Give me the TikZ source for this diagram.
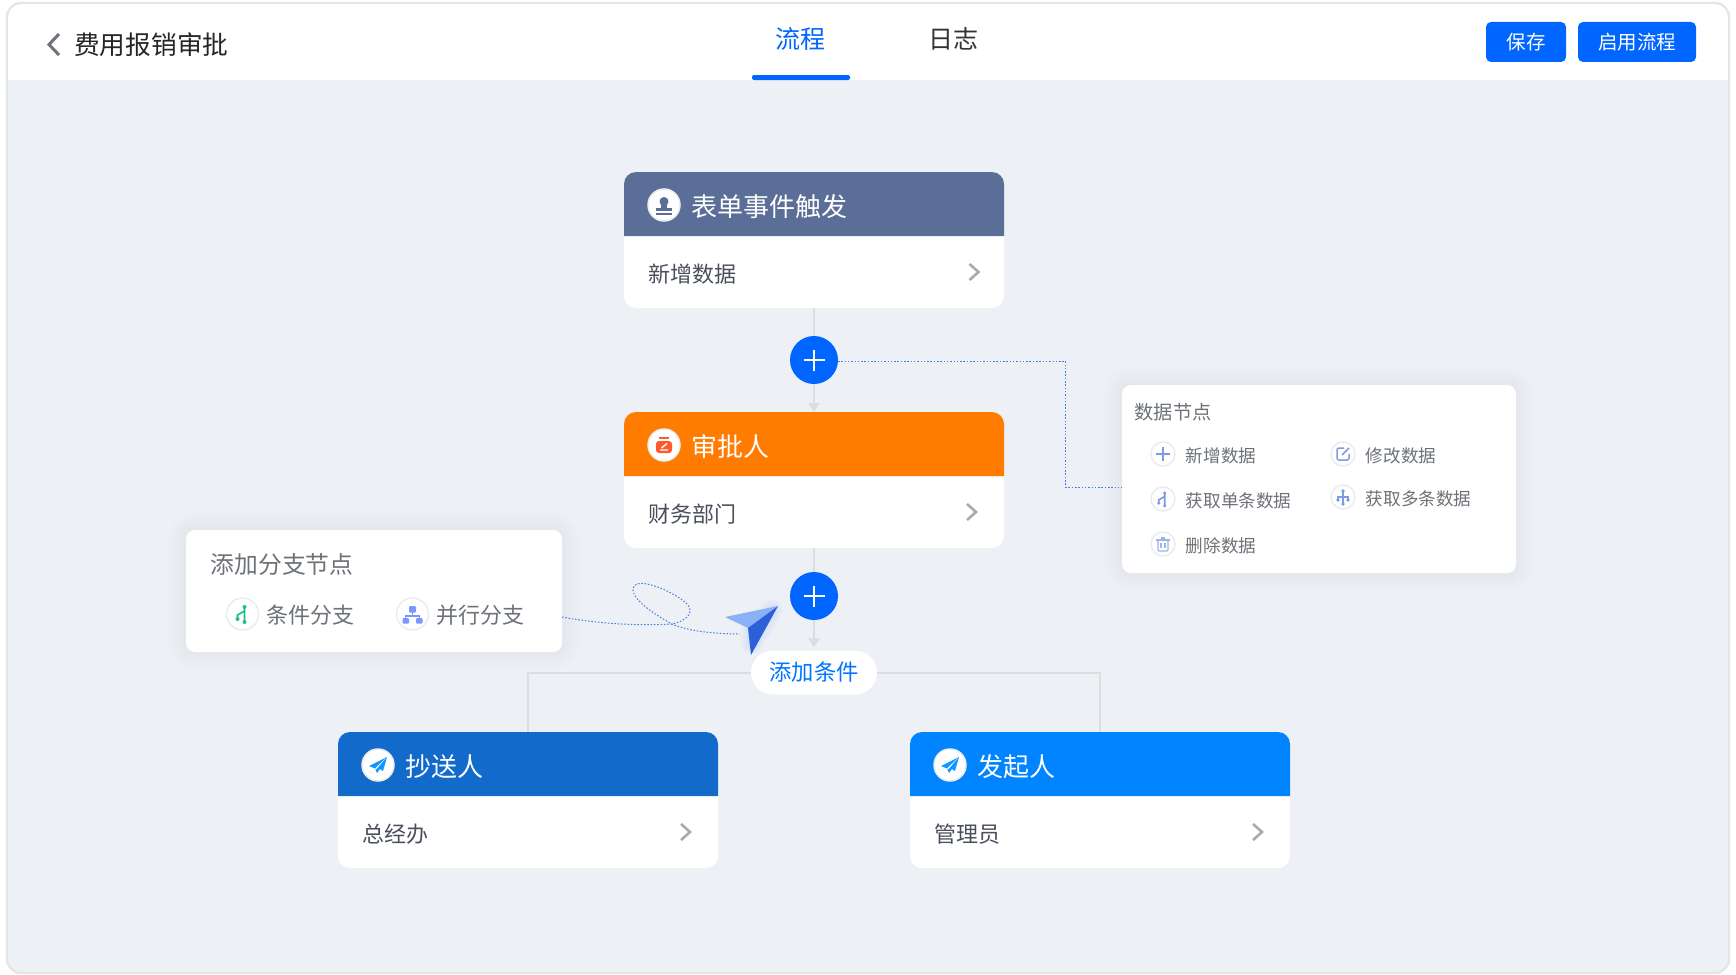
\documentclass[tikz,border=0pt]{standalone}
\usepackage{fontspec}
\setmainfont{Noto Sans CJK SC}
\usetikzlibrary{positioning,arrows.meta,calc,backgrounds}
\definecolor{canvas}{HTML}{EDF0F5}
\definecolor{framegray}{HTML}{E4E5E7}
\definecolor{mainblue}{HTML}{0066FF}
\definecolor{linegray}{HTML}{DCDDDF}
\definecolor{ringgray}{HTML}{EBECEE}
\definecolor{bodyink}{HTML}{4A4F5C}
\definecolor{menuink}{HTML}{6D7278}
\definecolor{chevgray}{HTML}{A8ABAE}
\definecolor{dotblue}{HTML}{4A7AE0}
\definecolor{iconblue}{HTML}{7C9BE0}
\definecolor{forkgreen}{HTML}{1DBF8A}
\definecolor{treeblue}{HTML}{7B96FF}
\definecolor{stampred}{HTML}{FF5A2E}
\definecolor{planesky}{HTML}{1296FF}
\definecolor{planelight}{HTML}{8AB0F8}
\definecolor{planedark}{HTML}{2C5FD8}
\definecolor{slatehead}{HTML}{5B6E97}
\definecolor{orangehead}{HTML}{FF7C00}
\definecolor{navyhead}{HTML}{126ACB}
\definecolor{skyhead}{HTML}{0084FF}
\newcommand{\fsize}[1]{\fontsize{#1}{#1}\selectfont}
\tikzstyle{card} = [fill=white, rounded corners=12pt, minimum width=380pt, minimum height=136pt, inner sep=0pt, outer sep=0pt]
\tikzstyle{cardtitle} = [text=white, font=\fsize{26}, inner sep=0pt]
\tikzstyle{cardbody} = [text=bodyink, font=\fsize{22}, inner sep=0pt, anchor=west]
\tikzstyle{iconring} = [circle, fill=white, draw=ringgray, line width=1.5pt, minimum size=32pt, inner sep=0pt]
\tikzstyle{miniring} = [iconring, minimum size=24pt]
\tikzstyle{addbtn} = [circle, fill=mainblue, minimum size=48pt, inner sep=0pt, outer sep=0pt]
\tikzstyle{panel} = [fill=white, rounded corners=9pt, inner sep=0pt, outer sep=0pt]
\tikzstyle{topbtn} = [fill=mainblue, text=white, rounded corners=5pt, minimum height=40pt, inner sep=0pt, font=\fsize{19.5}]
\tikzstyle{link} = [draw=linegray, line width=2pt]
\tikzstyle{dotlink} = [draw=dotblue, line width=1pt, dash pattern=on 1.5pt off 1.8pt]
\newcommand{\flowcard}[7]{%
	\node[card] (#1) at (#2,#3) {};
	\fill[#4] ($(#1.north west)+(0,64)$) [rounded corners=12pt] -- (#1.north west) -- (#1.north east) [sharp corners] -- ($(#1.north east)+(0,64)$) -- cycle;
	\node[iconring] (#1icon) at ($(#1.north west)+(40,33)$) {};
	\node[cardtitle, right=11pt of #1icon, yshift=-1.5pt] (#1title) {#5};
	\node[cardbody] (#1body) at ($(#1.north west)+(24,102)$) {#6};
	\draw[chevgray, line width=2.6pt] ($(#1.north west)+(#7,92)$) -- ($(#1.north west)+(#7+9,100)$) -- ($(#1.north west)+(#7,108)$);
}
\newcommand{\menuitem}[4]{%
	\node[miniring] (#1) at (#2,#3) {};
	\node[text=menuink, font=\fsize{17.6}, inner sep=0pt, right=10pt of #1, yshift=-2pt] (#1text) {#4};
}
\newcommand{\softshadow}[1]{%
	\begin{scope}[on background layer]
		\foreach \w in {4,8,...,36}
			\draw[black, opacity=.0035, line width=\w pt, rounded corners=9pt, yshift=-2pt] (#1.north west) rectangle (#1.south east);
	\end{scope}
}
\newcommand{\planeicon}[1]{%
	\begin{scope}[shift={(#1.center)}]
		\fill[planesky] (9,-8) -- (-9,1) -- (-3,3.5) -- (-1,8) -- (2,4) -- (5,6) -- cycle;
		\fill[white] (8,-7) -- (-3,3.5) -- (-2,4.5) -- cycle;
	\end{scope}
}
\newcommand{\forkicon}[3]{%
	\begin{scope}[shift={(#1.center)}, scale=#3]
		\draw[#2, line width=1.6pt] (2,-7) -- (2,8) (-5,5) -- (-5,1) -- (2,-3);
		\fill[#2] (2,-7) circle (2) (2,8) circle (2) (-5,5) circle (2);
	\end{scope}
}
\begin{document}
\begin{tikzpicture}[x=1pt,y=-1pt]
	\useasboundingbox (0,0) rectangle (1736,974);
	\begin{scope}[on background layer]
		\filldraw[draw=framegray, line width=2.4pt, fill=canvas, rounded corners=14pt] (7,3) rectangle (1729,973);
		\fill[white] (8.2,80) [rounded corners=13pt] -- (8.2,4.2) -- (1727.8,4.2) [sharp corners] -- (1727.8,80) -- cycle;
	\end{scope}

	\draw[menuink, line width=3pt] (59,34) -- (49,44.5) -- (59,55);
	\node[font=\fsize{25.7}, text=black!85, inner sep=0pt, anchor=west] (pagetitle) at (74,44.5) {费用报销审批};
	\node[font=\fsize{25}, text=mainblue, inner sep=0pt] (tabflow) at (800.5,38.5) {流程};
	\node[font=\fsize{25}, text=black!80, inner sep=0pt] (tablog) at (953,38.5) {日志};
	\fill[mainblue, rounded corners=2pt] (752,75) rectangle (850,80);
	\node[topbtn, minimum width=80pt] (savebtn) at (1526,42) {\raisebox{-1pt}{保存}};
	\node[topbtn, minimum width=118pt] (enablebtn) at (1637,42) {\raisebox{-1pt}{启用流程}};

	\flowcard{trigger}{814}{240}{slatehead}{表单事件触发}{新增数据}{345.5}
	\flowcard{approver}{814}{480}{orangehead}{审批人}{财务部门}{343}
	\flowcard{copyto}{528}{800}{navyhead}{抄送人}{总经办}{343}
	\flowcard{starter}{1100}{800}{skyhead}{发起人}{管理员}{343}

	\begin{scope}[shift={(triggericon.center)}]
		\fill[slatehead] (0,-3.5) circle (4.5);
		\fill[slatehead] (-3,-1) rectangle (3,4);
		\fill[slatehead] (-8,3) rectangle (8,6);
		\fill[slatehead] (-8,8) rectangle (8,9.5);
	\end{scope}
	\begin{scope}[shift={(approvericon.center)}]
		\fill[stampred] (-5,-8) rectangle (5,-6.2);
		\fill[stampred, rounded corners=3pt] (-8,-4) rectangle (8,8);
		\draw[white, line width=1.4pt] (-4,5) -- (4,5) (-2.5,3) -- (3,-1.5);
	\end{scope}
	\planeicon{copytoicon}
	\planeicon{startericon}

	\node[addbtn] (addone) at (814,360) {};
	\node[addbtn] (addtwo) at (814,596) {};
	\foreach \a in {addone,addtwo}
		\draw[white, line width=2pt] ($(\a)+(-10.5,0)$) -- ($(\a)+(10.5,0)$) ($(\a)+(0,-10.5)$) -- ($(\a)+(0,10.5)$);
	\node[fill=white, rounded corners=22pt, minimum width=126pt, minimum height=44pt, inner sep=0pt, text=mainblue!90!cyan, font=\fsize{22.3}] (addcond) at (814,672.5) {添加条件};

	\begin{scope}[on background layer]
		\draw[link] (trigger) -- (addone);
		\draw[link, -{Triangle[width=11pt,length=9pt]}] (addone) -- (approver);
		\draw[link] (approver) -- (addtwo);
		\draw[link, -{Triangle[width=11pt,length=9pt]}, shorten >=3pt] (addtwo) -- (addcond);
		\draw[link] (addcond.west) -| (copyto.north);
		\draw[link] (addcond.east) -| (starter.north);
	\end{scope}

	\node[panel, minimum width=394pt, minimum height=188pt] (datapanel) at (1319,479) {};
	\softshadow{datapanel}
	\node[text=menuink, font=\fsize{19.2}, inner sep=0pt, anchor=west] (datatitle) at (1134.5,412) {数据节点};
	\menuitem{addrow}{1163}{454}{新增数据}
	\menuitem{editrow}{1343}{454}{修改数据}
	\menuitem{onerow}{1163}{499}{获取单条数据}
	\menuitem{manyrow}{1343}{497}{获取多条数据}
	\menuitem{delrow}{1163}{544}{删除数据}
	\draw[iconblue, line width=1.3pt] ($(addrow)+(-7,0)$) -- ($(addrow)+(7,0)$) ($(addrow)+(0,-7)$) -- ($(addrow)+(0,7)$);
	\begin{scope}[shift={(editrow.center)}]
		\draw[iconblue, line width=1.5pt, rounded corners=2pt] (1,-6) -- (-6,-6) -- (-6,6) -- (6,6) -- (6,0);
		\draw[iconblue, line width=1.5pt] (-1,1) -- (6,-6);
	\end{scope}
	\forkicon{onerow}{iconblue}{.85}
	\begin{scope}[shift={(manyrow.center)}]
		\draw[iconblue, line width=1.4pt] (0,-6) -- (0,7) (-5,3) -- (-5,0) -- (5,0) -- (5,3);
		\fill[iconblue] (0,-6) circle (1.8) (0,7) circle (1.8) (-5,3) circle (1.8) (5,3) circle (1.8);
	\end{scope}
	\begin{scope}[shift={(delrow.center)}]
		\draw[iconblue!75, line width=1.2pt, rounded corners=1pt] (-5,-4) -- (-5,7) -- (5,7) -- (5,-4);
		\draw[iconblue!75, line width=1.2pt] (-7,-4) -- (7,-4) (-2,-6) -- (2,-6) (-2,-1) -- (-2,4) (2,-1) -- (2,4);
	\end{scope}

	\node[panel, minimum width=376pt, minimum height=122pt] (branchpanel) at (374,591) {};
	\softshadow{branchpanel}
	\node[text=menuink, font=\fsize{23.8}, inner sep=0pt, anchor=west] (branchtitle) at (210.5,564.5) {添加分支节点};
	\node[iconring] (condicon) at (242.5,614) {};
	\node[text=menuink, font=\fsize{22}, inner sep=0pt, right=7pt of condicon, yshift=-1pt] (condtext) {条件分支};
	\node[iconring] (paraicon) at (412.5,614) {};
	\node[text=menuink, font=\fsize{22}, inner sep=0pt, right=7pt of paraicon, yshift=-1pt] (paratext) {并行分支};
	\forkicon{condicon}{forkgreen}{1}
	\begin{scope}[shift={(paraicon.center)}]
		\draw[treeblue, line width=1.6pt] (0,-3) -- (0,2) (-7,6) -- (-7,2) -- (7,2) -- (7,6);
		\fill[treeblue, rounded corners=1pt] (-3.5,-8) rectangle (3.5,-1.5) (-10,4) rectangle (-3.5,9.5) (3.5,4) rectangle (10,9.5);
	\end{scope}

	\coordinate (tapone) at (838,361);
	\coordinate (elbow) at (1065.5,487);
	\coordinate (dataport) at (1122,487);
	\draw[dotlink] (tapone) -| (elbow) -- (dataport);

	\coordinate (flightstart) at (562,617);
	\coordinate (flightend) at (740,634);
	\draw[dotlink] (flightstart) .. controls (600,624) and (640,626) .. (672,624) .. controls (690,620) and (695,610) .. (685,602) .. controls (670,590) and (640,578) .. (634,586) .. controls (628,596) and (650,612) .. (672,624) .. controls (685,630) and (710,634) .. (flightend);

	\begin{scope}[on background layer]
		\foreach \w in {3,6,...,21}
			\draw[mainblue, opacity=.02, line width=\w pt, line join=round] (772,610) -- (752,630) -- (752,644) -- cycle;
	\end{scope}
	\fill[planelight] (778,606) -- (725,617) -- (748,628) -- cycle;
	\fill[planedark] (778,606) -- (748,628) -- (751,655) -- cycle;
\end{tikzpicture}
\end{document}
